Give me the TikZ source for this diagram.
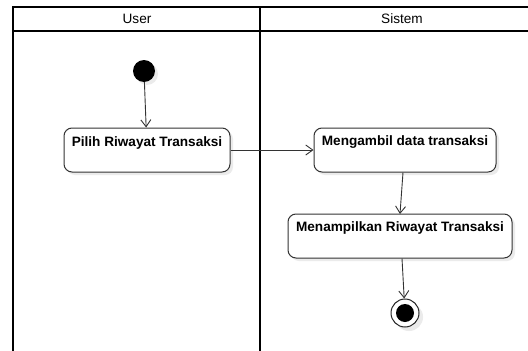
\documentclass[tikz,border=0pt]{standalone}
\usepackage{fontspec}
\setmainfont{Liberation Sans}
\usetikzlibrary{arrows.meta}
\begin{document}
\begin{tikzpicture}[x=1pt,y=-1pt,
  lane/.style={draw=black,line width=2pt},
  act/.style={draw=black!80,line width=1pt,rounded corners=8pt,fill=white},
  shadowbox/.style={fill=black!8,rounded corners=8pt},
  acttext/.style={font=\fontsize{13.6}{16}\selectfont\bfseries,inner sep=0pt,anchor=center},
  hdr/.style={font=\fontsize{13.6}{16}\selectfont,inner sep=0pt},
  flow/.style={draw=black!80,line width=0.9pt,-{Straight Barb[length=7pt,width=10pt]}}]
\useasboundingbox (0,0) rectangle (528,351);
\fill[white] (0,0) rectangle (528,351);
% swimlanes
\draw[lane] (13,358) -- (13,7) -- (540,7);
\draw[lane] (13,31) -- (540,31);
\draw[lane] (260,7) -- (260,358);
\node[hdr] (hu) at (137,19) {User};
\node[hdr] (hs) at (402,19) {Sistem};
% start
\fill[black!8] (147,74) circle (11);
\node[circle,fill=black,minimum size=22pt,inner sep=0pt] (start) at (144,71) {};
% activity 1
\fill[shadowbox] (67,131) rectangle (233,175);
\node[act,minimum width=166pt,minimum height=44pt,inner sep=0pt] (a1) at (147,150) {};
\node[acttext] (t1) at (147,143) {Pilih Riwayat Transaksi};
% activity 2
\fill[shadowbox] (317,131) rectangle (499,175);
\node[act,minimum width=182pt,minimum height=44pt,inner sep=0pt] (a2) at (405,150) {};
\node[acttext] (t2) at (405,142) {Mengambil data transaksi};
% activity 3
\fill[shadowbox] (291,217) rectangle (515,261);
\node[act,minimum width=224pt,minimum height=44pt,inner sep=0pt] (a3) at (400,236) {};
\node[acttext] (t3) at (400,228) {Menampilkan Riwayat Transaksi};
% end
\fill[black!8] (409,317) circle (14);
\node[circle,draw=black!85,line width=1pt,fill=white,minimum size=28pt,inner sep=0pt] (end) at (405,313) {};
\fill[black] (end.center) circle (9);
% connectors
\draw[flow] (start) -- (a1);
\draw[flow] (a1) -- (a2);
\draw[flow] (a2.south -| 403,0) -- (400,214);
\draw[flow] (a3.south -| 402,0) -- (end);
\end{tikzpicture}
\end{document}
